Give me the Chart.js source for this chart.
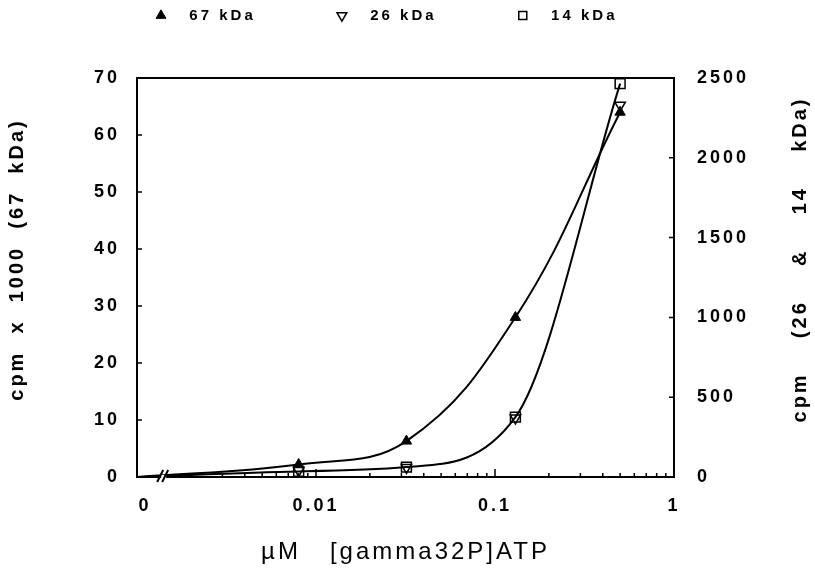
<!DOCTYPE html>
<html>
<head>
<meta charset="utf-8">
<script src="https://cdn.jsdelivr.net/npm/chart.js"></script>
<style>
  html, body { margin: 0; padding: 0; background: #fff; }
  #wrap { width: 815px; height: 571px; }
</style>
</head>
<body>
<div id="wrap"><canvas id="atpChart"></canvas></div>
<script>
// uM [gamma32P]ATP; the 0 point sits on the broken part of the axis
const concentrations = [0, 0.008, 0.032, 0.13, 0.5];
const cpm67 = [0, 2.2, 6.3, 28, 64];      // cpm x 1000, left axis
const cpm26 = [0, 40, 60, 370, 2330];     // cpm, right axis
const cpm14 = [0, 35, 62, 375, 2465];     // cpm, right axis
const seriesNames = ['67 kDa', '26 kDa', '14 kDa'];

const xTickValues = [0.001, 0.01, 0.1, 1];
const xTickLabels = ['  0', '0.01', '0.1', '1'];
const xMinorTicks = [0.002, 0.003, 0.004, 0.005, 0.006, 0.007, 0.008, 0.009,
                     0.02, 0.03, 0.04, 0.05, 0.06, 0.07, 0.08, 0.09,
                     0.2, 0.3, 0.4, 0.5, 0.6, 0.7, 0.8, 0.9];
const leftTicks = [0, 10, 20, 30, 40, 50, 60, 70];
const rightTicks = [0, 500, 1000, 1500, 2000, 2500];

const zeroAt = 0.001;   // where "0" lives on the log axis
const breakAt = 0.0014; // the // mark

const leftTitle = 'cpm  x  1000  (67  kDa)';
const rightTitle = 'cpm    (26    &    14    kDa)';
const xTitle = 'µM   [gamma32P]ATP';

const FONT = '"Liberation Sans", Arial, sans-serif';
Chart.defaults.font.family = FONT;
Chart.defaults.color = '#000';

const toPoints = vals => concentrations.map((c, i) => ({ x: c === 0 ? zeroAt : c, y: vals[i] }));
const radii = r => concentrations.map(c => c === 0 ? 0 : r);

// old plotting software look: spaced out lettering
const spacing = {
  id: 'spacing',
  beforeLayout(chart) { chart.ctx.letterSpacing = '3px'; },
  beforeDraw(chart) { chart.ctx.letterSpacing = '3px'; }
};

const axisMarks = {
  id: 'axisMarks',
  afterDraw(chart) {
    const { ctx, chartArea: a, scales: { x, y, y2 } } = chart;
    ctx.save();
    ctx.strokeStyle = '#000';
    ctx.lineWidth = 1.5;
    ctx.beginPath();
    leftTicks.slice(1, -1).forEach(v => {
      const p = y.getPixelForValue(v);
      ctx.moveTo(a.left, p); ctx.lineTo(a.left + 5, p);
    });
    rightTicks.slice(1, -1).forEach(v => {
      const p = y2.getPixelForValue(v);
      ctx.moveTo(a.right, p); ctx.lineTo(a.right - 5, p);
    });
    xTickValues.slice(1, -1).forEach(v => {
      const p = x.getPixelForValue(v);
      ctx.moveTo(p, a.bottom); ctx.lineTo(p, a.bottom - 8);
    });
    xMinorTicks.forEach(v => {
      const p = x.getPixelForValue(v);
      ctx.moveTo(p, a.bottom); ctx.lineTo(p, a.bottom - 4);
    });
    ctx.stroke();

    // axis break
    const bx = x.getPixelForValue(breakAt);
    ctx.fillStyle = '#fff';
    ctx.fillRect(bx - 2, a.bottom - 2, 5, 4);
    ctx.lineWidth = 2;
    ctx.beginPath();
    ctx.moveTo(bx - 6, a.bottom + 5); ctx.lineTo(bx, a.bottom - 7);
    ctx.moveTo(bx - 1, a.bottom + 5); ctx.lineTo(bx + 5, a.bottom - 7);
    ctx.stroke();

    // vertical titles, both read bottom to top
    const mid = (a.top + a.bottom) / 2 - 18;
    ctx.font = 'bold 20px ' + FONT;
    ctx.fillStyle = '#000';
    ctx.textAlign = 'center';
    ctx.textBaseline = 'middle';
    [[y.left + 17, leftTitle], [y2.right - 15, rightTitle]].forEach(([tx, text]) => {
      ctx.save();
      ctx.translate(tx, mid);
      ctx.rotate(-Math.PI / 2);
      ctx.fillText(text, 0, 0);
      ctx.restore();
    });
    ctx.restore();
  }
};

const legendTrail = [10, 10, 6];
const tickFont = { family: FONT, size: 18, weight: 'bold' };

new Chart(document.getElementById('atpChart'), {
  type: 'line',
  data: {
    datasets: [
      {
        label: seriesNames[0],
        data: toPoints(cpm67),
        yAxisID: 'y',
        borderColor: '#000',
        borderWidth: 2,
        tension: 0.4,
        pointStyle: 'triangle',
        pointRadius: radii(6),
        pointBackgroundColor: '#000',
        pointBorderColor: '#000',
        pointBorderWidth: 1
      },
      {
        label: seriesNames[1],
        data: toPoints(cpm26),
        yAxisID: 'y2',
        showLine: false,
        pointStyle: 'triangle',
        pointRotation: 180,
        pointRadius: radii(6),
        pointBackgroundColor: 'rgba(255,255,255,0)',
        pointBorderColor: '#000',
        pointBorderWidth: 1.5
      },
      {
        label: seriesNames[2],
        data: toPoints(cpm14),
        yAxisID: 'y2',
        borderColor: '#000',
        borderWidth: 2,
        cubicInterpolationMode: 'monotone',
        pointStyle: 'rect',
        pointRadius: radii(7),
        pointBackgroundColor: 'rgba(255,255,255,0)',
        pointBorderColor: '#000',
        pointBorderWidth: 1.5
      }
    ]
  },
  options: {
    responsive: true,
    maintainAspectRatio: false,
    animation: false,
    devicePixelRatio: 1,
    layout: { padding: 0 },
    plugins: {
      tooltip: { enabled: false },
      legend: {
        position: 'top',
        labels: {
          usePointStyle: true,
          boxWidth: 13,
          boxHeight: 8,
          padding: 8,
          color: '#000',
          font: { family: FONT, size: 15, weight: 'bold' },
          generateLabels(chart) {
            const items = Chart.defaults.plugins.legend.labels.generateLabels(chart);
            items.forEach((it, i) => { it.text = '  ' + it.text + ' '.repeat(legendTrail[i]); });
            return items;
          }
        }
      }
    },
    scales: {
      x: {
        type: 'logarithmic',
        position: 'bottom',
        min: xTickValues[0],
        max: xTickValues[xTickValues.length - 1],
        grid: { display: false },
        border: { display: true, color: '#000', width: 2 },
        afterBuildTicks: s => { s.ticks = xTickValues.map(v => ({ value: v })); },
        ticks: {
          autoSkip: false,
          maxRotation: 0,
          padding: 10,
          color: '#000',
          font: tickFont,
          callback: (v, i) => xTickLabels[i]
        },
        title: {
          display: true,
          text: xTitle,
          color: '#000',
          font: { family: FONT, size: 24 },
          padding: { top: 0, bottom: 4 }
        },
        afterFit: s => { s.height = 94; }
      },
      xTop: {
        type: 'linear',
        axis: 'x',
        position: 'top',
        grid: { display: false },
        ticks: { display: false },
        border: { display: true, color: '#000', width: 2 },
        afterFit: s => { s.height = 45; }
      },
      y: {
        type: 'linear',
        position: 'left',
        min: 0,
        max: 70,
        grid: { display: false },
        border: { display: true, color: '#000', width: 2 },
        ticks: { stepSize: 10, padding: 9, color: '#000', font: tickFont, callback: v => String(v) },
        afterFit: s => { s.width = 137; }
      },
      y2: {
        type: 'linear',
        position: 'right',
        min: 0,
        max: 2500,
        grid: { display: false },
        border: { display: true, color: '#000', width: 2 },
        ticks: { stepSize: 500, padding: 15, color: '#000', font: tickFont, callback: v => String(v) },
        afterFit: s => { s.width = 141; }
      }
    }
  },
  plugins: [spacing, axisMarks]
});
</script>
</body>
</html>
